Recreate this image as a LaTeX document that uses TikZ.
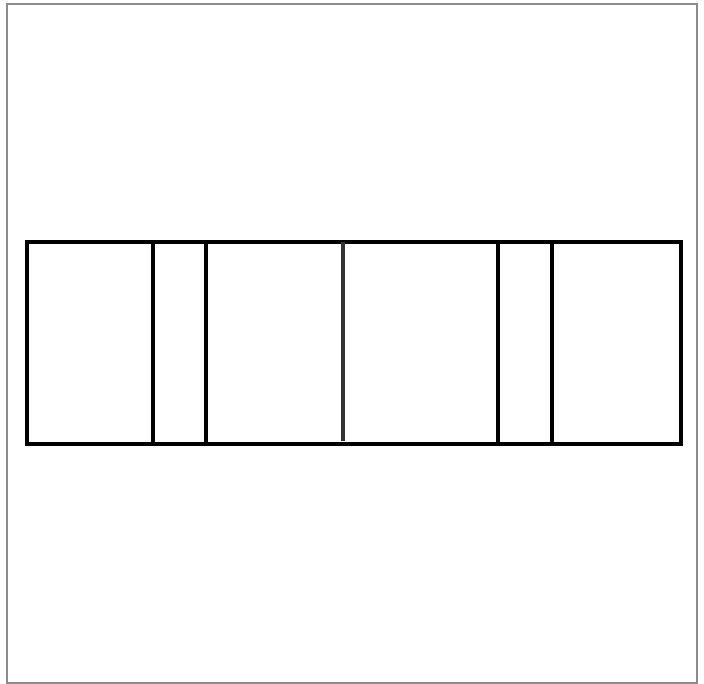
\documentclass[tikz,border=0pt]{standalone}
\begin{document}
\begin{tikzpicture}[x=1pt,y=-1pt,
  frame/.style={draw=black!45, line width=2pt},
  wall/.style={draw=black, line width=4pt, line cap=rect},
  midwall/.style={draw=black!80, line width=3.5pt}]
\useasboundingbox (0,0) rectangle (704,684);
\draw[frame] (7,4) rectangle (697,683);
\draw[wall] (26.5,242) rectangle (681,444);
\draw[wall] (152.5,242) -- (152.5,444);
\draw[wall] (205.5,242) -- (205.5,444);
\draw[midwall] (343,242) -- (343,441);
\draw[wall] (497.5,242) -- (497.5,444);
\draw[wall] (551.5,242) -- (551.5,444);
\end{tikzpicture}
\end{document}
